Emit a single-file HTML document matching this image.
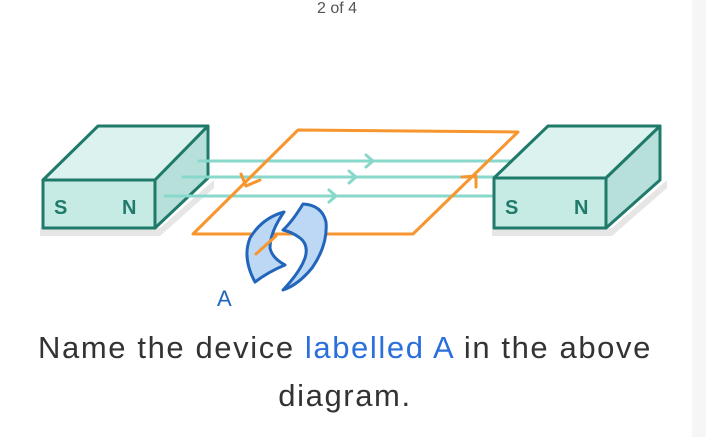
<!DOCTYPE html>
<html><head><style>
body{margin:0;width:706px;height:437px;background:#fff;overflow:hidden;position:relative;font-family:"Liberation Sans",sans-serif;}
.strip{position:absolute;right:0;top:0;width:14px;height:437px;background:#f6f6f6;}
.t{position:absolute;left:0;width:690px;text-align:center;color:#333;white-space:nowrap;}
</style></head><body>
<div class="strip"></div>
<div class="t" style="top:0;font-size:16px;color:#555;left:-8px;">2 of 4</div>
<svg width="706" height="437" style="position:absolute;left:0;top:0" stroke-linejoin="round" stroke-linecap="round">
<!-- left magnet -->
<path d="M40 236 L160 236 L214 188 L214 180 L160 228 L40 228 Z" fill="#e6e6e6"/>
<polygon points="43,180 98,126 208,126 155,180" fill="#dbf2ee" stroke="#1f7a6a" stroke-width="3"/>
<polygon points="155,180 208,126 208,178 155,228" fill="#b8e0da" stroke="#1f7a6a" stroke-width="3"/>
<rect x="43" y="180" width="112" height="48" fill="#c6ebe5" stroke="#1f7a6a" stroke-width="3"/>
<text x="54" y="214" font-size="20" font-weight="bold" fill="#1f7a6a" font-family="Liberation Sans">S</text>
<text x="122" y="214" font-size="20" font-weight="bold" fill="#1f7a6a" font-family="Liberation Sans">N</text>
<!-- field lines -->
<g stroke="#88d9cb" stroke-width="3" fill="none">
<line x1="199" y1="161" x2="510" y2="161"/>
<line x1="183" y1="177" x2="510" y2="177"/>
<line x1="165" y1="196" x2="494" y2="196"/>
<polyline points="366,155 373,161 366,167"/>
<polyline points="349,171 356,177 349,183"/>
<polyline points="329,190 336,196 329,202"/>
</g>
<!-- loop -->
<g stroke="#f7952e" stroke-width="3" fill="none">
<polygon points="298,130 518,132 413,234 193,234"/>
<polyline points="241,174 246,186 260,180"/>
<polyline points="462,177 476,176 476,187"/>
</g>
<!-- right magnet -->
<path d="M492 236 L612 236 L667 188 L667 180 L612 228 L492 228 Z" fill="#e6e6e6"/>
<polygon points="494,178 548,126 660,126 606,178" fill="#dbf2ee" stroke="#1f7a6a" stroke-width="3"/>
<polygon points="606,178 660,126 660,180 606,228" fill="#b8e0da" stroke="#1f7a6a" stroke-width="3"/>
<rect x="494" y="178" width="112" height="50" fill="#c6ebe5" stroke="#1f7a6a" stroke-width="3"/>
<text x="505" y="214" font-size="20" font-weight="bold" fill="#1f7a6a" font-family="Liberation Sans">S</text>
<text x="574" y="214" font-size="20" font-weight="bold" fill="#1f7a6a" font-family="Liberation Sans">N</text>
<!-- commutator -->
<g stroke="#2266bb" stroke-width="3" fill="#bcd8f5">
<path d="M303 204 Q322 205 326 222 Q328 245 312 268 Q298 285 283 290 Q300 272 305 258 Q309 245 300 238 Q292 232 283 230 Q292 222 303 204 Z"/>
<path d="M284 212 Q262 218 250 238 Q242 258 255 282 Q268 272 285 265 Q272 258 270 248 Q270 232 284 212 Z"/>
</g>
<line x1="256" y1="254" x2="276" y2="236" stroke="#f7952e" stroke-width="3"/>
<text x="217" y="306" font-size="22" fill="#2266bb" font-family="Liberation Sans">A</text>
</svg>
<div class="t" style="top:330px;font-size:31px;letter-spacing:1.6px;">Name the device <span style="color:#2a6fdb">labelled A</span> in the above</div>
<div class="t" style="top:378px;font-size:31px;letter-spacing:1.6px;">diagram.</div>
</body></html>
